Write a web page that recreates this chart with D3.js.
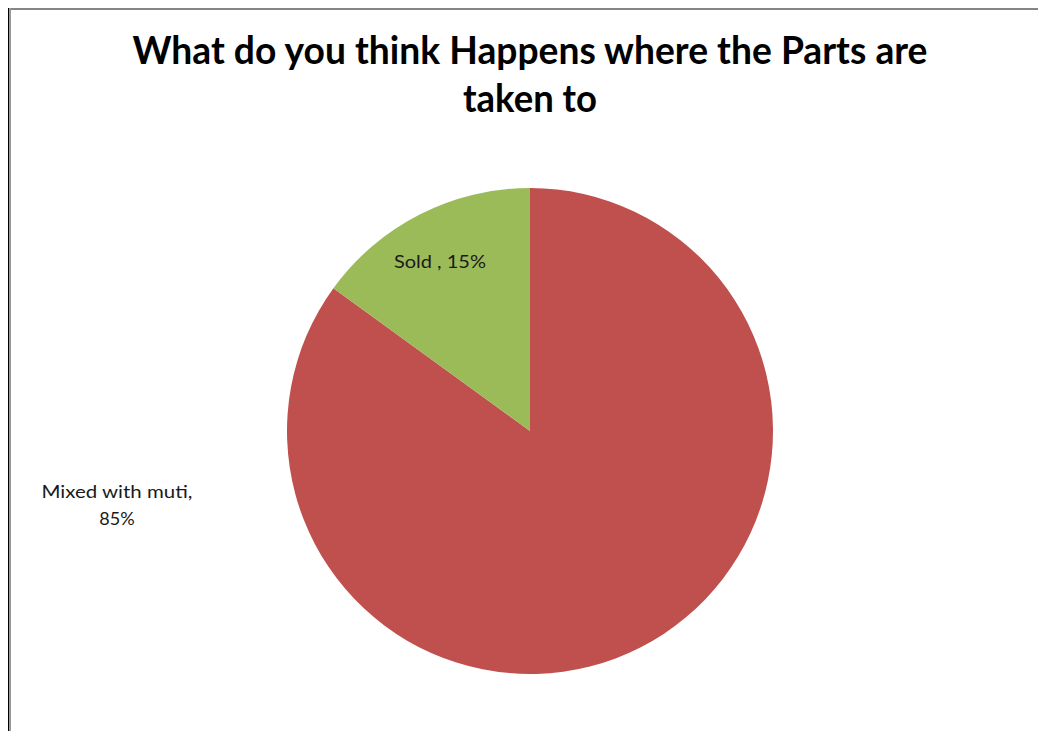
<!DOCTYPE html>
<html>
<head>
<meta charset="utf-8">
<script src="https://cdn.jsdelivr.net/npm/d3@7"></script>
<style>
  html, body { margin: 0; padding: 0; background: #fff; }
  svg { display: block; }
</style>
</head>
<body>
<svg id="chart" width="1038" height="731"></svg>
<script>
const categories = ["Mixed with muti", "Sold "];
const values = [85, 15];
const colors = ["#C0504D", "#9BBB59"];
const titleLines = ["What do you think Happens where the Parts are", "taken to"];

const svg = d3.select("#chart");
const W = 1038, H = 731;
const font = "Lato, 'Open Sans', 'DejaVu Sans', sans-serif";

svg.append("rect").attr("width", W).attr("height", H).attr("fill", "#fff");

// chart border (only top and left visible in frame)
svg.append("line").attr("x1", 9).attr("x2", W).attr("y1", 9).attr("y2", 9)
  .attr("stroke", "#858585").attr("stroke-width", 2);
svg.append("line").attr("x1", 8.5).attr("x2", 8.5).attr("y1", 8).attr("y2", H)
  .attr("stroke", "#000").attr("stroke-width", 1);
svg.append("line").attr("x1", 10).attr("x2", 10).attr("y1", 8).attr("y2", H)
  .attr("stroke", "#9a9a9a").attr("stroke-width", 2);

// title
const titleWidths = [795, 134];
const title = svg.append("g");
titleLines.forEach((t, i) => {
  title.append("text")
    .attr("x", 530).attr("y", 64 + i * 48)
    .attr("text-anchor", "middle")
    .attr("font-family", font).attr("font-weight", "bold")
    .attr("font-size", 39).attr("fill", "#000")
    .attr("textLength", titleWidths[i]).attr("lengthAdjust", "spacingAndGlyphs")
    .text(t);
});

// pie
const cx = 530, cy = 431, R = 243;
const data = categories.map((c, i) => ({ name: c, value: values[i], color: colors[i] }));
const pie = d3.pie().value(d => d.value).sort(null);
const arc = d3.arc().innerRadius(0).outerRadius(R);
const g = svg.append("g").attr("transform", `translate(${cx},${cy})`);
const arcs = pie(data);
g.selectAll("path").data(arcs).enter().append("path")
  .attr("d", arc).attr("fill", d => d.data.color)
  .attr("stroke", "none");

// labels
const fmt = v => v + "%";
// Sold label inside slice
const soldArc = arcs[1];
const inner = d3.arc().innerRadius(R * 0.78).outerRadius(R * 0.78);
const c1 = inner.centroid(soldArc);
g.append("text")
  .attr("x", c1[0] - 4).attr("y", c1[1] + 6)
  .attr("text-anchor", "middle")
  .attr("font-family", font).attr("font-size", 18).attr("fill", "#1a1a1a")
  .attr("textLength", 92).attr("lengthAdjust", "spacingAndGlyphs")
  .text(soldArc.data.name + ", " + fmt(soldArc.data.value));

// Mixed label outside left
const mixed = arcs[0];
const lx = -R - 170, ly = 67;
const t2 = g.append("text")
  .attr("text-anchor", "middle")
  .attr("font-family", font).attr("font-size", 18).attr("fill", "#1a1a1a");
t2.append("tspan").attr("x", lx).attr("y", ly)
  .attr("textLength", 151).attr("lengthAdjust", "spacingAndGlyphs")
  .text(mixed.data.name + ",");
t2.append("tspan").attr("x", lx).attr("y", ly + 27)
  .text(fmt(mixed.data.value));
</script>
</body>
</html>
